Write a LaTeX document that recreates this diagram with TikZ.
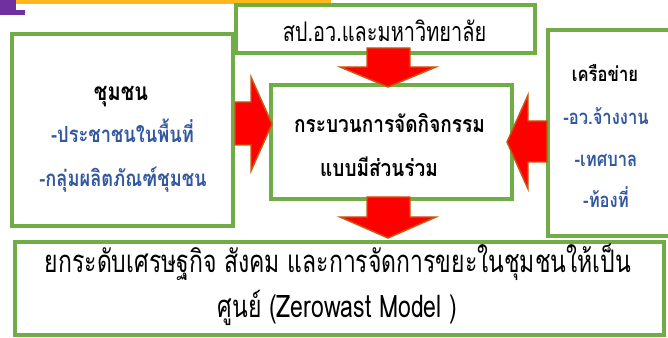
\documentclass[tikz,border=0pt]{standalone}
\usepackage{fontspec}
\newfontfamily\thai[Script=Thai,FakeStretch=0.82]{Loma}
\newfontfamily\thaitall[Script=Thai,FakeStretch=0.74]{Loma}
\definecolor{boxgreen}{RGB}{112,173,71}
\definecolor{arrowred}{RGB}{255,0,0}
\definecolor{arrowedge}{RGB}{197,90,17}
\definecolor{txtblue}{RGB}{50,88,160}
\definecolor{barorange}{RGB}{255,184,28}
\definecolor{barpurple}{RGB}{112,48,160}
\begin{document}
\begin{tikzpicture}[x=0.75pt,y=-0.75pt,
  gbox/.style={draw=boxgreen,line width=3pt,fill=white},
  blk/.style={fill=arrowred,draw=arrowedge,line width=1.1pt,line join=miter},
  txt/.style={anchor=base,inner sep=0pt,font=\thai},
  topt/.style={txt,font=\thaitall\fontsize{20.2}{23}\selectfont},
  bott/.style={txt,font=\thaitall\fontsize{23.3}{26}\selectfont},
  mid/.style={txt,font=\thai\bfseries\fontsize{18.3}{21}\selectfont},
  ctr/.style={txt,font=\thai\bfseries\fontsize{17.4}{20}\selectfont},
  lft/.style={txt,font=\thai\bfseries\fontsize{16.7}{19}\selectfont},
  sml/.style={txt,font=\thai\bfseries\fontsize{15.2}{18}\selectfont}]
\useasboundingbox (0,0) rectangle (668,338);
\clip (0,0) rectangle (668,338);
% decoration
\fill[barorange] (16,0) rectangle (331,4);
\fill[barpurple] (0,0) rectangle (16,10);
\fill[barpurple] (0,10) rectangle (25,15);
% boxes
\draw[gbox] (235.5,5.5) rectangle (535,53.5);
\draw[gbox] (11.5,34) rectangle (233,226.5);
\draw[gbox] (270.5,85) rectangle (511.5,199);
\draw[gbox] (547.5,30.5) rectangle (675,236.5);
\draw[gbox] (15,242) rectangle (663.5,335);
% block arrows
\draw[blk] (367,48) -- (410,48) -- (410,67) -- (436,67) -- (388,87) -- (340,67) -- (367,67) -- cycle;
\draw[blk] (367,197) -- (410,197) -- (410,217) -- (436,217) -- (388,238) -- (340,217) -- (367,217) -- cycle;
\draw[blk] (235,102) -- (251,102) -- (251,77) -- (272,124) -- (251,171) -- (251,145) -- (235,145) -- cycle;
\draw[blk] (547,121) -- (528,121) -- (528,95) -- (507,142) -- (528,189) -- (528,162) -- (547,162) -- cycle;
% texts
\node[topt] (top) at (384.5,42) {สป.อว.และมหาวิทยาลัย};
\node[mid] (c0) at (121,101) {ชุมชน};
\node[lft,text=txtblue] (c1) at (122.5,143) {-ประชาชนในพื้นที่};
\node[lft,text=txtblue] (c2) at (123,187) {-กลุ่มผลิตภัณฑ์ชุมชน};
\node[ctr] (p1) at (389.5,133) {กระบวนการจัดกิจกรรม};
\node[ctr] (p2) at (379,177) {แบบมีส่วนร่วม};
\node[sml] (n0) at (605,82) {เครือข่าย};
\node[sml,text=txtblue] (n1) at (606,125) {-อว.จ้างงาน};
\node[sml,text=txtblue] (n2) at (606,167) {-เทศบาล};
\node[sml,text=txtblue] (n3) at (606,208) {-ท้องที่};
\node[bott] (b1) at (338,273) {ยกระดับเศรษฐกิจ สังคม และการจัดการขยะในชุมชนให้เป็น};
\node[bott] (b2) at (337.5,318) {ศูนย์ (Zerowast Model )};
\end{tikzpicture}
\end{document}
